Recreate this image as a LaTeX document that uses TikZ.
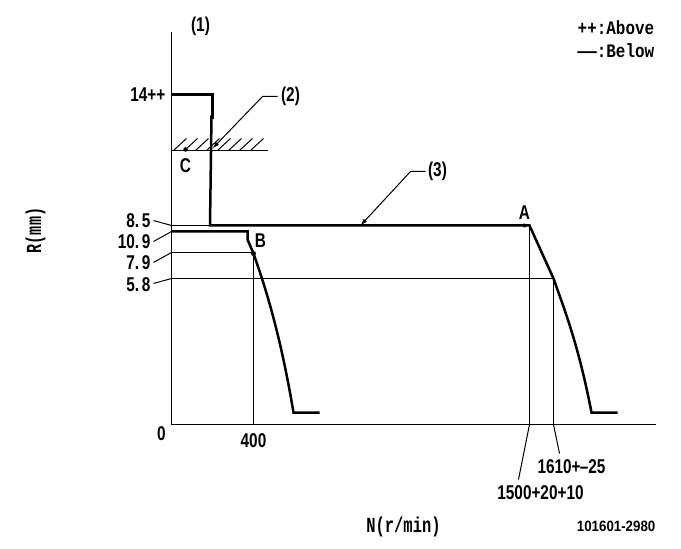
\documentclass[tikz,border=0pt]{standalone}
\usepackage{fontspec}
\setmainfont{Liberation Sans}
\setmonofont{Liberation Mono}
\usetikzlibrary{arrows.meta}
\tikzset{
  thin line/.style={draw=black,line width=1bp},
  thick line/.style={draw=black,line width=2.5bp,line join=miter},
  leader/.style={draw=black,line width=1bp,-{Latex[length=7bp,width=4.5bp]}},
  lbl/.style={inner sep=0pt,font=\bfseries\fontsize{20}{20}\selectfont,xscale=0.77,text=black},
  monolbl/.style={inner sep=0pt,font=\ttfamily\bfseries\fontsize{16}{16}\selectfont,text=black},
  codelbl/.style={inner sep=0pt,font=\bfseries\fontsize{15}{15}\selectfont,xscale=0.89,text=black},
  dotp/.style={circle,fill=black,inner sep=0pt,minimum size=4bp}
}
\begin{document}
\begin{tikzpicture}[x=1bp,y=-1bp,shift={(0.5,0.5)}]
\useasboundingbox (-0.5,-0.5) rectangle (680.5,548.5);
% axes
\coordinate (top) at (171,32);
\coordinate (org) at (171,424);
\coordinate (xend) at (655,424);
\draw[thin line] (top) -- (org) -- (xend);
% reference points
\coordinate (y14) at (171,94);
\coordinate (c1) at (212,94);
\coordinate (c2) at (212,119);
\coordinate (c2b) at (211,115);
\coordinate (c3) at (209.5,225);
\coordinate (A) at (529,225);
\coordinate (A2) at (553,278);
\coordinate (A3) at (591,412);
\coordinate (A4) at (617,412);
\coordinate (yb) at (171,231);
\coordinate (b1) at (247,231);
\coordinate (b2) at (247,239);
\coordinate (B) at (253,253);
\coordinate (B3) at (293,412);
\coordinate (B4) at (319,412);
\coordinate (y85) at (171,225);
\coordinate (y79) at (171,252);
\coordinate (y58) at (171,278);
\coordinate (x400) at (253,424);
\coordinate (x1500) at (529,424);
\coordinate (x1610) at (553,424);
\coordinate (hatchend) at (267,150);
\coordinate (hatchstart) at (171,150);
% thin guide lines
\draw[thin line] (y85) -- (c3);
\draw[thin line] (y79) -- (253,252) -- (x400);
\draw[thin line] (y58) -- (A2) -- (x1610);
\draw[thin line] (A) -- (x1500);
\draw[thin line] (hatchstart) -- (hatchend);
% hatching
\foreach \hx in {173,184,195,206,217,228,239,250}
  \draw[thin line] (\hx,150) -- (\hx+13,138);
% curves
\draw[thick line] (y14) -- (c1) -- (c2);
\draw[thick line] (c2b) -- (c3) -- (A) -- (A2)
  .. controls (565,312) and (578,345) .. (A3) -- (A4);
\draw[thick line] (yb) -- (b1) -- (b2) -- (B)
  .. controls (266,290) and (280,335) .. (B3) -- (B4);
% points
\node[dotp,minimum size=4.5bp] (pC) at (185,149) {};
\node[dotp,minimum size=5bp] (pB) at (253,253) {};
\node[dotp,minimum size=4bp] (pA) at (524,225) {};
% leaders
\node[lbl,anchor=center] (l1) at (200,26) {(1)};
\node[lbl,anchor=center] (l2) at (290,96) {(2)};
\node[lbl,anchor=center] (l3) at (437,171) {(3)};
\coordinate (k2) at (277,96);
\coordinate (m2) at (262,96);
\coordinate (t2) at (212,148);
\coordinate (k3) at (425,171);
\coordinate (m3) at (410,171);
\coordinate (t3) at (360,225);
\draw[leader] (k2) -- (m2) -- (t2);
\draw[leader] (k3) -- (m3) -- (t3);
% y labels
\node[lbl,anchor=east] (n14) at (165,94) {14++};
\node[lbl,anchor=east] (n85) at (150,220) {8.\,5};
\node[lbl,anchor=east] (n109) at (150,241) {10.\,9};
\node[lbl,anchor=east] (n79) at (150,262) {7.\,9};
\node[lbl,anchor=east] (n58) at (150,284) {5.\,8};
\draw[thin line] (n85.east) ++(3,0) -- (y85);
\draw[thin line] (n109.east) ++(3,0) -- (yb);
\draw[thin line] (n79.east) ++(3,0) -- (y79);
\draw[thin line] (n58.east) ++(3,-1) -- (y58);
% letters
\node[lbl] (nC) at (185,165) {C};
\node[lbl] (nB) at (260,240) {B};
\node[lbl] (nA) at (524,212) {A};
% x labels
\node[lbl] (n0) at (161,433) {0};
\node[lbl] (n400) at (253,440) {400};
\node[lbl] (n1610) at (571,466) {1610+\kern-1pt--25};
\node[lbl] (n1500) at (540,492) {1500+20+10};
\draw[thin line] (x1610) -- (559,453);
\draw[thin line] (x1500) -- (518,479);
% axis titles
\node[monolbl,rotate=90] (nR) at (35,230) {\scalebox{0.95}[1.35]{R(mm)}};
\node[monolbl] (nN) at (403,526) {\scalebox{0.97}[1.35]{N(r/min)}};
% legend
\node[monolbl,anchor=west] (nAb) at (577,27) {\scalebox{1}[1.2]{++:Above}};
\node[monolbl,anchor=west] (nBe) at (577,50) {\scalebox{1}[1.2]{\scalebox{2}[1]{—}:Below}};
% code
\node[codelbl,anchor=east] (code) at (655,526) {101601-2980};
\end{tikzpicture}
\end{document}
